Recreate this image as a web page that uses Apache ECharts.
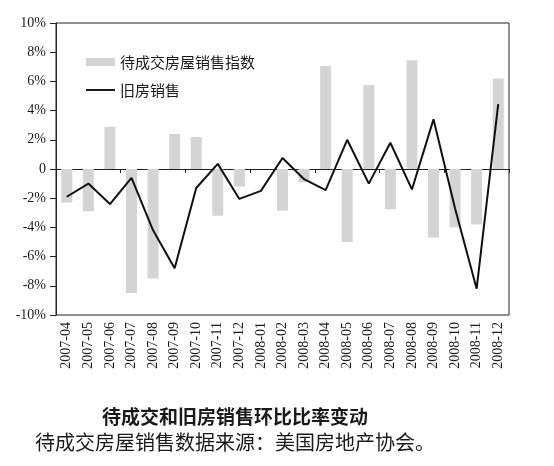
<!DOCTYPE html>
<html>
<head>
<meta charset="utf-8">
<script src="https://cdn.jsdelivr.net/npm/echarts@6/dist/echarts.min.js"></script>
<style>
html,body{margin:0;padding:0;background:#fff;}
#chart{width:554px;height:466px;}
</style>
</head>
<body>
<div id="chart"></div>
<script>
var categories = ['2007-04','2007-05','2007-06','2007-07','2007-08','2007-09','2007-10','2007-11','2007-12','2008-01','2008-02','2008-03','2008-04','2008-05','2008-06','2008-07','2008-08','2008-09','2008-10','2008-11','2008-12'];
var pendingSales = [-2.3, -2.9, 2.9, -8.5, -7.5, 2.4, 2.2, -3.2, -1.2, 0, -2.85, -0.9, 7.05, -5.0, 5.75, -2.75, 7.45, -4.7, -4.0, -3.8, 6.2];
var existingSales = [-1.9, -1.0, -2.4, -0.6, -4.2, -6.8, -1.3, 0.35, -2.05, -1.5, 0.75, -0.7, -1.45, 2.0, -1.0, 1.8, -1.4, 3.4, -2.7, -8.2, 4.45];
var seriesNames = ['待成交房屋销售指数', '旧房销售'];
var titleText = '待成交和旧房销售环比比率变动';
var subtitleText = '待成交房屋销售数据来源：美国房地产协会。';

var chart = echarts.init(document.getElementById('chart'));
var serif = '"Liberation Serif", "Times New Roman", serif';
var cjk = '"Noto Sans CJK SC", sans-serif';
chart.setOption({
  animation: false,
  backgroundColor: '#fff',
  title: [
    { text: titleText, left: 97, top: 402,
      textStyle: { fontFamily: cjk, fontSize: 19, fontWeight: 'bold', color: '#1a1a1a' } },
    { text: subtitleText, left: 30, top: 427,
      textStyle: { fontFamily: cjk, fontSize: 20, fontWeight: 'normal', color: '#1a1a1a' } }
  ],
  legend: {
    orient: 'vertical',
    left: 81, top: 49,
    itemWidth: 29, itemHeight: 8, itemGap: 12,
    textStyle: { fontFamily: cjk, fontSize: 15, color: '#1a1a1a', lineHeight: 16 },
    data: [
      { name: seriesNames[0], icon: 'rect' },
      { name: seriesNames[1], icon: 'path://M0,0L30,0L30,2L0,2Z' }
    ]
  },
  grid: {
    left: 56, right: 45, top: 23, bottom: 151,
    show: true, borderColor: '#222', borderWidth: 1,
    containLabel: false
  },
  xAxis: [
    {
      type: 'category', data: categories, position: 'bottom',
      boundaryGap: true,
      axisLine: { show: false, onZero: false },
      axisTick: { show: false },
      axisLabel: { rotate: 90, fontFamily: serif, fontSize: 14, color: '#1a1a1a', margin: 7, interval: 0 }
    },
    {
      type: 'category', data: categories, position: 'top',
      boundaryGap: true,
      axisLine: { show: true, onZero: true, lineStyle: { color: '#222', width: 1 } },
      axisTick: { show: true, inside: true, length: 4, lineStyle: { color: '#222' } },
      axisLabel: { show: false }
    }
  ],
  yAxis: {
    type: 'value', min: -10, max: 10, interval: 2,
    axisLine: { show: true, lineStyle: { color: '#222' } },
    axisTick: { show: true, length: 6, lineStyle: { color: '#222' } },
    splitLine: { show: false },
    axisLabel: {
      fontFamily: serif, fontSize: 14, color: '#1a1a1a', margin: 10,
      formatter: function (v) { return v === 0 ? '0' : v + '%'; }
    }
  },
  series: [
    {
      name: seriesNames[0], type: 'bar', data: pendingSales,
      xAxisIndex: 0, barWidth: 11,
      itemStyle: { color: '#d4d4d4' }
    },
    {
      name: seriesNames[1], type: 'line', data: existingSales,
      xAxisIndex: 0, symbol: 'none',
      lineStyle: { color: '#111', width: 2 },
      itemStyle: { color: '#111' }
    }
  ]
});
</script>
</body>
</html>
